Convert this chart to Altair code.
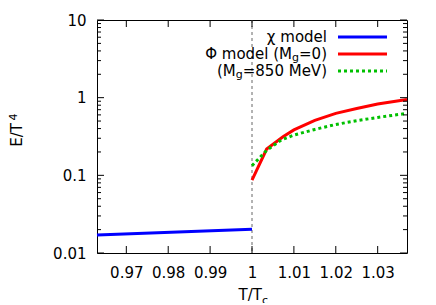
import altair as alt
import pandas as pd

# ---- data ----
chi_x = [0.963, 1.0]
chi_y = [0.0171, 0.0202]

phi0_x = [1.0, 1.0035, 1.0074, 1.010, 1.015, 1.020, 1.025, 1.030, 1.037]
phi0_y = [0.087, 0.218, 0.314, 0.385, 0.51, 0.628, 0.725, 0.83, 0.95]

phi850_x = [1.0, 1.0035, 1.007, 1.010, 1.015, 1.020, 1.025, 1.030, 1.037]
phi850_y = [0.133, 0.21, 0.285, 0.33, 0.39, 0.452, 0.505, 0.557, 0.628]

x_ticks = [0.97, 0.98, 0.99, 1.0, 1.01, 1.02, 1.03]
y_major = [0.01, 0.1, 1, 10]
y_minor = [0.02, 0.03, 0.04, 0.05, 0.06, 0.07, 0.08, 0.09,
           0.2, 0.3, 0.4, 0.5, 0.6, 0.7, 0.8, 0.9,
           2, 3, 4, 5, 6, 7, 8, 9]
tc_line = [1.0]

W, H = 310, 233
FONT = "DejaVu Sans"
FS = 15
SUB = 11

xscale = alt.Scale(domain=[0.963, 1.037], nice=False, zero=False)
yscale = alt.Scale(type="log", domain=[0.01, 10], nice=False)
xaxis = alt.Axis(values=x_ticks, format="~g", title=None, labelPadding=12)
yaxis = alt.Axis(values=y_major, format="~g", title=None, labelPadding=11)

X = alt.X("x:Q", scale=xscale, axis=xaxis)
Y = alt.Y("y:Q", scale=yscale, axis=yaxis)

chi = alt.Chart(pd.DataFrame({"x": chi_x, "y": chi_y})).mark_line(
    color="#0000ff", strokeWidth=3).encode(x=X, y=Y)
phi0 = alt.Chart(pd.DataFrame({"x": phi0_x, "y": phi0_y})).mark_line(
    color="#ff0000", strokeWidth=3).encode(x=X, y=Y)
phi850 = alt.Chart(pd.DataFrame({"x": phi850_x, "y": phi850_y})).mark_line(
    color="#00c000", strokeWidth=3, strokeDash=[3, 3]).encode(x=X, y=Y)

vline = alt.Chart(pd.DataFrame({"x": tc_line})).mark_rule(
    color="#666666", strokeWidth=1, strokeDash=[3, 3]).encode(
    x=X, y=alt.value(0), y2=alt.value(H))

xt = pd.DataFrame({"x": x_ticks})
ymaj = pd.DataFrame({"y": y_major})
ymin = pd.DataFrame({"y": y_minor})
tick_kw = dict(color="black", strokeWidth=1)
ticks = [
    alt.Chart(xt).mark_rule(**tick_kw).encode(x=X, y=alt.value(H), y2=alt.value(H - 7)),
    alt.Chart(xt).mark_rule(**tick_kw).encode(x=X, y=alt.value(0), y2=alt.value(7)),
    alt.Chart(ymaj).mark_rule(**tick_kw).encode(y=Y, x=alt.value(0), x2=alt.value(7)),
    alt.Chart(ymaj).mark_rule(**tick_kw).encode(y=Y, x=alt.value(W), x2=alt.value(W - 7)),
    alt.Chart(ymin).mark_rule(**tick_kw).encode(y=Y, x=alt.value(0), x2=alt.value(4)),
    alt.Chart(ymin).mark_rule(**tick_kw).encode(y=Y, x=alt.value(W), x2=alt.value(W - 4)),
]

one = pd.DataFrame({"a": [0]})


def txt(s, x, y, size=FS, align="right", baseline="middle", angle=0):
    kw = dict(text=s, font=FONT, fontSize=size, align=align, baseline=baseline, color="black")
    if angle:
        kw["angle"] = angle
    return alt.Chart(one).mark_text(**kw).encode(x=alt.value(x), y=alt.value(y))


def sample(y, color, dash=None):
    kw = dict(color=color, strokeWidth=3)
    if dash:
        kw["strokeDash"] = dash
    return alt.Chart(one).mark_rule(**kw).encode(
        x=alt.value(241), x2=alt.value(290), y=alt.value(y))


# legend (text right-aligned, sample line to the right), like gnuplot's key
R = 230
w_eq0 = 1.864 * FS
w_eq850 = 5.616 * FS
w_g = 0.635 * SUB
legend = [
    txt("\u03c7 model", R, 17),
    sample(17, "#0000ff"),
    txt("=0)", R, 34),
    txt("g", R - w_eq0, 38, size=SUB),
    txt("\u03a6 model (M", R - w_eq0 - w_g, 34),
    sample(34, "#ff0000"),
    txt("=850 MeV)", R, 51),
    txt("g", R - w_eq850, 55, size=SUB),
    txt("(M", R - w_eq850 - w_g, 51),
    sample(51, "#00c000", [3, 3]),
]

titles = [
    txt("T/T", 165, 280, align="right", baseline="alphabetic"),
    txt("c", 165, 284, size=SUB, align="left", baseline="alphabetic"),
    txt("E/T", -75, 115, align="center", baseline="alphabetic", angle=270),
    txt("4", -83, 97, size=SUB, align="center", baseline="middle", angle=270),
]

chart = alt.layer(vline, chi, phi0, phi850, *ticks, *legend, *titles).properties(
    width=W, height=H,
    autosize=alt.AutoSizeParams(type="none"),
    padding={"left": 89, "top": 12, "right": 21, "bottom": 50},
).configure_view(stroke="black", strokeWidth=1).configure_axis(
    tickSize=0, domain=False, grid=False, labelFont=FONT, labelFontSize=FS,
    labelColor="black",
)

chart.save("out.html", embed_options={"renderer": "svg", "actions": False})
